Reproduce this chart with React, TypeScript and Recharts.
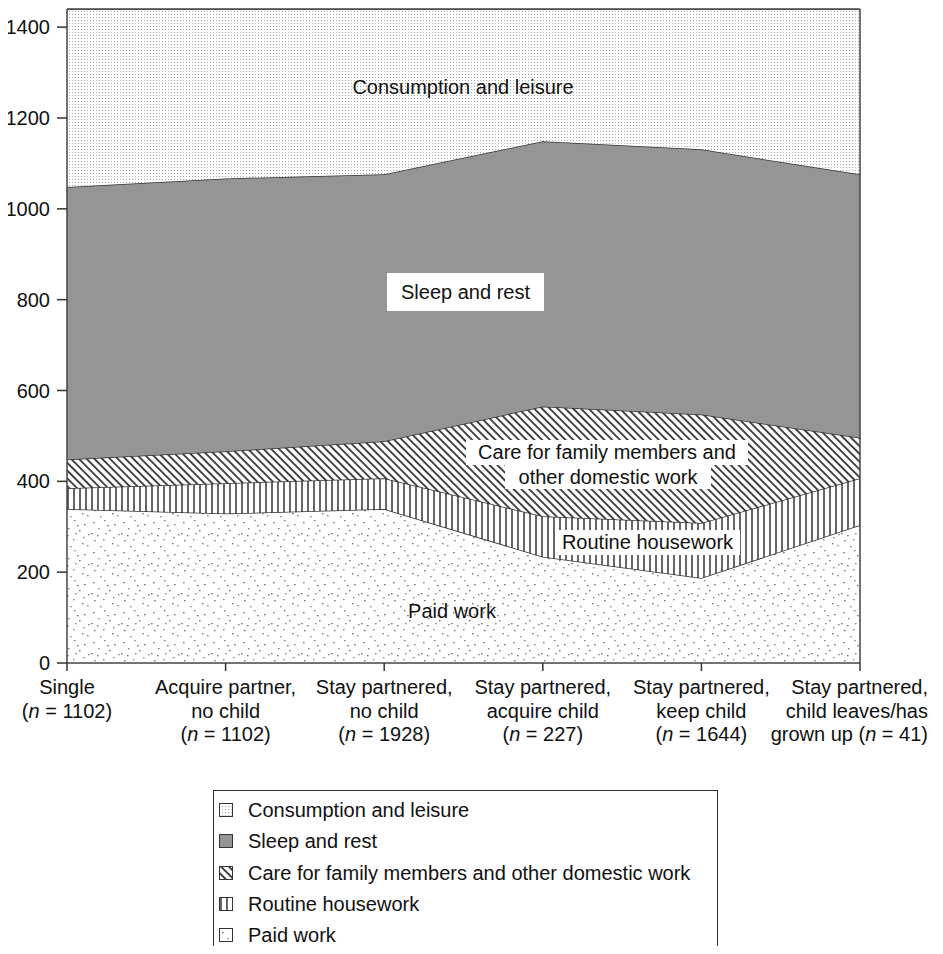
import React from "react";
import { Area, AreaChart, ReferenceLine, XAxis, YAxis } from "recharts";

const categories = [
  "Single",
  "Acquire partner, no child",
  "Stay partnered, no child",
  "Stay partnered, acquire child",
  "Stay partnered, keep child",
  "Stay partnered, child leaves/has grown up",
];

// tick label lines, the "n" count is set in italics
const tickLines = [
  ["Single", "(n = 1102)"],
  ["Acquire partner,", "no child", "(n = 1102)"],
  ["Stay partnered,", "no child", "(n = 1928)"],
  ["Stay partnered,", "acquire child", "(n = 227)"],
  ["Stay partnered,", "keep child", "(n = 1644)"],
  ["Stay partnered,", "child leaves/has", "grown up (n = 41)"],
];

// minutes per day, bottom to top
const paidWork = [339, 329, 339, 234, 187, 304];
const routineHousework = [46, 67, 68, 89, 121, 103];
const careFamily = [63, 70, 81, 242, 239, 89];
const sleepRest = [600, 601, 588, 584, 584, 580];
const consumptionLeisure = [392, 373, 364, 291, 309, 364];

const yTicks = [0, 200, 400, 600, 800, 1000, 1200, 1400];

const series = [
  { key: "paid", name: "Paid work", values: paidWork, fill: "url(#patPaid)" },
  { key: "house", name: "Routine housework", values: routineHousework, fill: "url(#patHouse)" },
  { key: "care", name: "Care for family members and other domestic work", values: careFamily, fill: "url(#patCare)" },
  { key: "sleep", name: "Sleep and rest", values: sleepRest, fill: "#959595" },
  { key: "leisure", name: "Consumption and leisure", values: consumptionLeisure, fill: "url(#patLeisure)" },
];

const data = categories.map((cat, i) => {
  const row: Record<string, string | number> = { cat };
  series.forEach((s) => (row[s.key] = s.values[i]));
  return row;
});

const FONT = "'Liberation Sans', Arial, sans-serif";
const FS = 20;

// scattered dots for the paid work fill
const paidDots = [
  [3, 4], [14, 2], [24, 6], [8, 10], [19, 12], [28, 16], [4, 22], [13, 21],
  [22, 25], [10, 28], [17, 7], [27, 27], [1, 15], [23, 19], [7, 17], [15, 15],
];

function renderLine(line: string) {
  const m = line.match(/^(.*)\(n = (.*)\)$/);
  if (!m) return line;
  return (
    <>
      {m[1]}(<tspan fontStyle="italic">n</tspan> = {m[2]})
    </>
  );
}

const XTick = (props: any) => {
  const { x, y, payload } = props;
  const idx = categories.indexOf(payload.value);
  const lines = tickLines[idx] || [];
  // the last label sits against the right edge of the figure
  const last = idx === categories.length - 1;
  const tx = last ? x + 68 : x;
  return (
    <text x={tx} y={y} textAnchor={last ? "end" : "middle"} fontSize={FS} fontFamily={FONT} fill="#111">
      {lines.map((l, i) => (
        <tspan key={i} x={tx} dy={i === 0 ? 23 : 23.5}>
          {renderLine(l)}
        </tspan>
      ))}
    </text>
  );
};

const labelBox: React.CSSProperties = {
  position: "absolute",
  background: "#fff",
  fontFamily: FONT,
  fontSize: FS,
  color: "#111",
  textAlign: "center",
  whiteSpace: "nowrap",
  lineHeight: "24px",
};

const freeLabel: React.CSSProperties = {
  ...labelBox,
  background: "transparent",
  transform: "translate(-50%, -50%)",
};

export default function App() {
  return (
    <div style={{ position: "relative", width: 943, height: 946, marginLeft: -8, marginBottom: -8, fontFamily: FONT }}>
      <AreaChart width={943} height={760} data={data} margin={{ top: 1, right: 83, bottom: 0, left: 0 }}>
        <defs>
          <pattern id="patLeisure" width="3" height="3" patternUnits="userSpaceOnUse">
            <rect width="3" height="3" fill="#fff" />
            <rect width="1" height="1" fill="#a8a8a8" />
          </pattern>
          <pattern id="patCare" width="5.5" height="5.5" patternUnits="userSpaceOnUse" patternTransform="rotate(-45)">
            <rect width="5.5" height="5.5" fill="#fff" />
            <line x1="1" y1="0" x2="1" y2="5.5" stroke="#333" strokeWidth="1.8" />
          </pattern>
          <pattern id="patHouse" width="6" height="6" patternUnits="userSpaceOnUse">
            <rect width="6" height="6" fill="#fff" />
            <line x1="2" y1="0" x2="2" y2="6" stroke="#333" strokeWidth="1.5" />
          </pattern>
          <pattern id="patPaid" width="30" height="30" patternUnits="userSpaceOnUse">
            <rect width="30" height="30" fill="#fff" />
            {paidDots.map(([cx, cy], i) => (
              <rect key={i} x={cx} y={cy} width={1.6} height={1.3} fill={i % 2 ? "#8a8a8a" : "#777"} />
            ))}
          </pattern>
        </defs>
        <XAxis
          dataKey="cat"
          height={105}
          tickSize={8}
          tickMargin={0}
          tick={<XTick />}
          interval={0}
          stroke="#333"
          axisLine={{ stroke: "#444", strokeWidth: 1.5 }}
          tickLine={{ stroke: "#333", strokeWidth: 1.5 }}
        />
        <YAxis
          width={67}
          domain={[0, 1440]}
          ticks={yTicks}
          tickSize={10}
          tickMargin={7}
          allowDataOverflow
          tick={{ fontSize: FS, fill: "#111", fontFamily: FONT }}
          axisLine={{ stroke: "#444", strokeWidth: 1.5 }}
          tickLine={{ stroke: "#333", strokeWidth: 1.5 }}
        />
        {series.map((s) => (
          <Area
            key={s.key}
            type="linear"
            dataKey={s.key}
            name={s.name}
            stackId="day"
            stroke="#333"
            strokeWidth={1.5}
            fill={s.fill}
            fillOpacity={1}
            isAnimationActive={false}
          />
        ))}
        <ReferenceLine y={1440} stroke="#444" strokeWidth={1.5} />
        <ReferenceLine x={categories[categories.length - 1]} stroke="#444" strokeWidth={1.5} />
      </AreaChart>

      {/* area annotations */}
      <div style={{ ...freeLabel, left: 463, top: 79 }}>Consumption and leisure</div>
      <div style={{ ...labelBox, left: 387, top: 265, width: 157, height: 38, lineHeight: "38px" }}>Sleep and rest</div>
      <div style={{ ...labelBox, left: 466, top: 432, width: 282, height: 25 }}>Care for family members and</div>
      <div style={{ ...labelBox, left: 505, top: 457, width: 206, height: 24 }}>other domestic work</div>
      <div style={{ ...labelBox, left: 555, top: 522, width: 185, height: 25 }}>Routine housework</div>
      <div style={{ ...freeLabel, left: 452, top: 603 }}>Paid work</div>

      {/* legend */}
      <div
        style={{
          position: "absolute",
          left: 213,
          top: 782,
          width: 503,
          height: 164,
          borderTop: "1.5px solid #333",
          borderLeft: "1.5px solid #333",
          borderRight: "1.5px solid #333",
          background: "#fff",
        }}
      >
        {[...series].reverse().map((s, i) => (
          <div
            key={s.key}
            style={{
              position: "absolute",
              left: 5,
              top: 19 + i * 31.3,
              display: "flex",
              alignItems: "center",
              fontSize: FS,
              color: "#111",
              lineHeight: "24px",
              whiteSpace: "nowrap",
              transform: "translateY(-50%)",
            }}
          >
            <svg width={14} height={14} style={{ marginRight: 15 }}>
              <rect x={0.5} y={0.5} width={13} height={13} fill={s.fill} stroke="#333" strokeWidth={1} />
            </svg>
            {s.name}
          </div>
        ))}
      </div>
    </div>
  );
}
